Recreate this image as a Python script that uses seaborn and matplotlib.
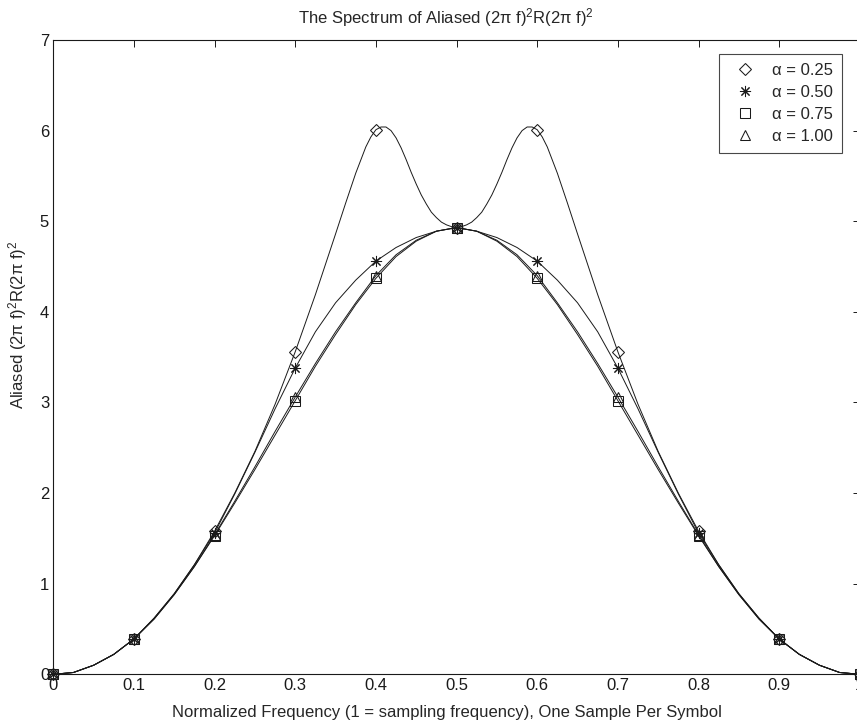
import matplotlib
matplotlib.use("Agg")
import matplotlib.pyplot as plt
import seaborn as sns

# ---------------- data ----------------
alpha_labels = ["α = 0.25", "α = 0.50", "α = 0.75", "α = 1.00"]

# marker positions (every 0.1)
f_mark = [0.0, 0.1, 0.2, 0.3, 0.4, 0.5, 0.6, 0.7, 0.8, 0.9, 1.0]
m_a025 = [0.0, 0.39, 1.58, 3.56, 6.01, 4.93, 6.01, 3.56, 1.58, 0.39, 0.0]
m_a050 = [0.0, 0.39, 1.56, 3.38, 4.56, 4.93, 4.56, 3.38, 1.56, 0.39, 0.0]
m_a075 = [0.0, 0.39, 1.53, 3.02, 4.37, 4.93, 4.37, 3.02, 1.53, 0.39, 0.0]
m_a100 = [0.0, 0.39, 1.54, 3.06, 4.40, 4.93, 4.40, 3.06, 1.54, 0.39, 0.0]

# continuous curves
f_a025 = [0.0, 0.025, 0.05, 0.075, 0.1, 0.125, 0.15, 0.175, 0.2, 0.225, 0.25,
          0.275, 0.3, 0.325, 0.35, 0.3625, 0.375, 0.3875, 0.39375, 0.4,
          0.40625, 0.4125, 0.41875, 0.425, 0.43125, 0.4375, 0.44375, 0.45,
          0.45625, 0.4625, 0.46875, 0.475, 0.48125, 0.4875, 0.49375, 0.5,
          0.50625, 0.5125, 0.51875, 0.525, 0.53125, 0.5375, 0.54375, 0.55,
          0.55625, 0.5625, 0.56875, 0.575, 0.58125, 0.5875, 0.59375, 0.6,
          0.60625, 0.6125, 0.625, 0.6375, 0.65, 0.675, 0.7, 0.725,
          0.75, 0.775, 0.8, 0.825, 0.85, 0.875, 0.9, 0.925, 0.95, 0.975, 1.0]
y_a025 = [0.0, 0.02, 0.10, 0.22, 0.39, 0.62, 0.89, 1.21, 1.58, 2.00, 2.46,
          2.98, 3.56, 4.19, 4.86, 5.20, 5.53, 5.82, 5.93, 6.01,
          6.04, 6.04, 6.00, 5.92, 5.81, 5.68, 5.54, 5.41,
          5.29, 5.19, 5.10, 5.04, 4.99, 4.96, 4.94, 4.93,
          4.94, 4.96, 4.99, 5.04, 5.10, 5.19, 5.29, 5.41,
          5.54, 5.68, 5.81, 5.92, 6.00, 6.04, 6.04, 6.01,
          5.93, 5.82, 5.53, 5.20, 4.86, 4.19, 3.56, 2.98,
          2.46, 2.00, 1.58, 1.21, 0.89, 0.62, 0.39, 0.22, 0.10, 0.02, 0.0]

f_grid = [0.0, 0.025, 0.05, 0.075, 0.1, 0.125, 0.15, 0.175, 0.2, 0.225, 0.25,
          0.275, 0.3, 0.325, 0.35, 0.375, 0.4, 0.425, 0.45, 0.475, 0.5,
          0.525, 0.55, 0.575, 0.6, 0.625, 0.65, 0.675, 0.7, 0.725, 0.75,
          0.775, 0.8, 0.825, 0.85, 0.875, 0.9, 0.925, 0.95, 0.975, 1.0]
y_a050 = [0.0, 0.02, 0.10, 0.22, 0.39, 0.62, 0.89, 1.21, 1.56, 1.99, 2.45,
          2.93, 3.38, 3.78, 4.10, 4.35, 4.56, 4.71, 4.82, 4.89, 4.93,
          4.89, 4.82, 4.71, 4.56, 4.35, 4.10, 3.78, 3.38, 2.93, 2.45,
          1.99, 1.56, 1.21, 0.89, 0.62, 0.39, 0.22, 0.10, 0.02, 0.0]
y_a075 = [0.0, 0.02, 0.10, 0.22, 0.39, 0.61, 0.88, 1.19, 1.53, 1.89, 2.26,
          2.64, 3.02, 3.40, 3.75, 4.08, 4.37, 4.61, 4.78, 4.89, 4.93,
          4.89, 4.78, 4.61, 4.37, 4.08, 3.75, 3.40, 3.02, 2.64, 2.26,
          1.89, 1.53, 1.19, 0.88, 0.61, 0.39, 0.22, 0.10, 0.02, 0.0]
y_a100 = [0.0, 0.02, 0.10, 0.22, 0.39, 0.61, 0.88, 1.19, 1.54, 1.91, 2.29,
          2.68, 3.06, 3.43, 3.78, 4.10, 4.40, 4.63, 4.79, 4.89, 4.93,
          4.89, 4.79, 4.63, 4.40, 4.10, 3.78, 3.43, 3.06, 2.68, 2.29,
          1.91, 1.54, 1.19, 0.88, 0.61, 0.39, 0.22, 0.10, 0.02, 0.0]

x_ticks = [0.0, 0.1, 0.2, 0.3, 0.4, 0.5, 0.6, 0.7, 0.8, 0.9, 1.0]
x_ticklabels = ["0", "0.1", "0.2", "0.3", "0.4", "0.5", "0.6", "0.7", "0.8", "0.9", "1"]
y_ticks = [0, 1, 2, 3, 4, 5, 6, 7]

# ---------------- style ----------------
sns.set_theme(style="white")
plt.rcParams["font.family"] = ["Liberation Sans", "DejaVu Sans"]
plt.rcParams["mathtext.fontset"] = "custom"
plt.rcParams["mathtext.rm"] = "Liberation Sans"
plt.rcParams["mathtext.it"] = "Liberation Sans:italic"
plt.rcParams["mathtext.default"] = "regular"

W, H = 857, 727
fig = plt.figure(figsize=(W / 100, H / 100), dpi=100)
ax = fig.add_axes([53.3 / W, (H - 674.3) / H, 806.5 / W, (674.3 - 40) / H])

LW = 0.7
for fx, fy in [(f_a025, y_a025), (f_grid, y_a050), (f_grid, y_a075), (f_grid, y_a100)]:
    sns.lineplot(x=fx, y=fy, color="k", linewidth=LW, ax=ax, legend=False)

marker_specs = [
    (m_a025, "D", 6.2),
    (m_a050, (8, 2, 0), 8.0),
    (m_a075, "s", 7.0),
    (m_a100, "^", 7.8),
]
for (vals, mk, ms), lab in zip(marker_specs, alpha_labels):
    sns.lineplot(x=f_mark, y=vals, color="k", linestyle="", marker=mk,
                 markersize=ms, markerfacecolor="none", markeredgecolor="k",
                 markeredgewidth=0.75, clip_on=False, label=lab, ax=ax)

ax.set_xlim(0, 1)
ax.set_ylim(0, 7)
ax.set_xticks(x_ticks)
ax.set_xticklabels(x_ticklabels)
ax.set_yticks(y_ticks)
ax.tick_params(direction="in", length=5, width=0.7, top=True, right=True,
               labelsize=12, colors="k", pad=3)
for s in ax.spines.values():
    s.set_color("k")
    s.set_linewidth(0.8)
    s.set_visible(True)

ax.set_xlabel("")
ax.set_ylabel("")
fig.text(447 / W, 1 - 713 / H, "Normalized Frequency (1 = sampling frequency), One Sample Per Symbol",
         ha="center", va="center", fontsize=12)
fig.text(18 / W, 1 - 325 / H, "Aliased (2π f)$^2$R(2π f)$^2$", rotation=90,
         ha="center", va="center", fontsize=12)
fig.text(446 / W, 1 - 18 / H, "The Spectrum of Aliased (2π f)$^2$R(2π f)$^2$",
         ha="center", va="center", fontsize=12)

h, l = ax.get_legend_handles_labels()
leg = ax.legend(h, l, loc="upper right", bbox_to_anchor=(842 / W, 1 - 54 / H),
                bbox_transform=fig.transFigure, borderaxespad=0, fancybox=False,
                frameon=True, edgecolor="k", fontsize=12, numpoints=1,
                handlelength=2.0, handletextpad=0.6, labelspacing=0.42,
                borderpad=0.55)
leg.get_frame().set_linewidth(0.8)

fig.savefig("out.png", dpi=100)
